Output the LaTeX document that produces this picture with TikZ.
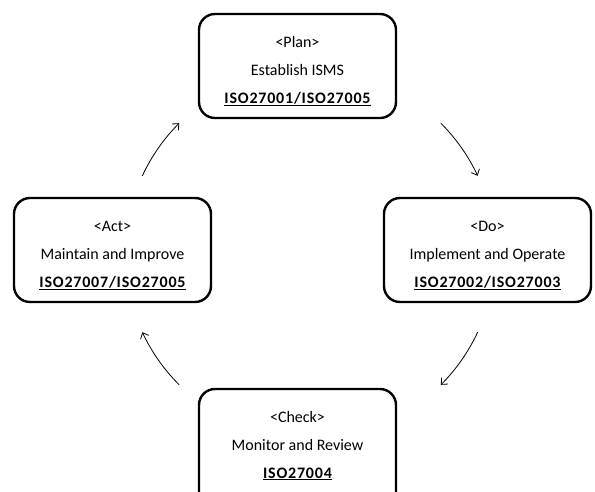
\documentclass[tikz,border=0pt]{standalone}
\usepackage{fontspec}
\setmainfont{Carlito}
\newfontfamily\stdfont[LetterSpace=5]{Carlito}
\usetikzlibrary{arrows.meta,calc}

\tikzset{
  stagebox/.style={draw, line width=2.4pt, rounded corners=16pt,
    minimum width=197pt, inner sep=0pt},
  stageline/.style={font=\fontsize{16}{19}\selectfont, anchor=base, inner sep=0pt},
  flow/.style={line width=0.8pt, -{Straight Barb[length=5pt,width=9pt]}}
}

% one PDCA stage: [box height], name, centre x, top y, three text lines
\newcommand\pdcastage[7][104]{%
  \node[stagebox, minimum height=#1pt] (#2) at (#3,#4+#1/2) {};
  \node[stageline] (#2-a) at (#3,#4+33) {#5};
  \node[stageline] (#2-b) at (#3,#4+61) {#6};
  \node[stageline] (#2-c) at (#3,#4+89) {\stdfont\bfseries\underline{#7}};
}

\begin{document}
\begin{tikzpicture}[x=1pt,y=-1pt]
  \useasboundingbox (0,0) rectangle (595,491);
  \clip (0,0) rectangle (595,491);
  \fill[white] (0,0) rectangle (595,491);

  \pdcastage{plan}{297.5}{14}{<Plan>}{Establish ISMS}{ISO27001/ISO27005}
  \begin{scope}[stagebox/.append style={minimum width=207pt}]
    \pdcastage{do}{487.5}{198}{<Do>}{Implement and Operate}{ISO27002/ISO27003}
  \end{scope}
  \pdcastage{act}{112.5}{198}{<Act>}{Maintain and Improve}{ISO27007/ISO27005}
  % the lowest box runs past the bottom edge
  \pdcastage[120]{check}{297.5}{389}{<Check>}{Monitor and Review}{ISO27004}

  % the cycle arrows lie on one circle
  \coordinate (hub) at (310,254);
  \coordinate (pd) at ($(hub)+(-45:185)$);
  \coordinate (dc) at ($(hub)+(25:185)$);
  \coordinate (ca) at ($(hub)+(135:185)$);
  \coordinate (ap) at ($(hub)+(205:185)$);

  \draw[flow] (pd) arc[start angle=-45, end angle=-25, radius=185];
  \draw[flow] (dc) arc[start angle=25, end angle=45, radius=185];
  \draw[flow] (ca) arc[start angle=135, end angle=155, radius=185];
  \draw[flow] (ap) arc[start angle=205, end angle=225, radius=185];
\end{tikzpicture}
\end{document}
